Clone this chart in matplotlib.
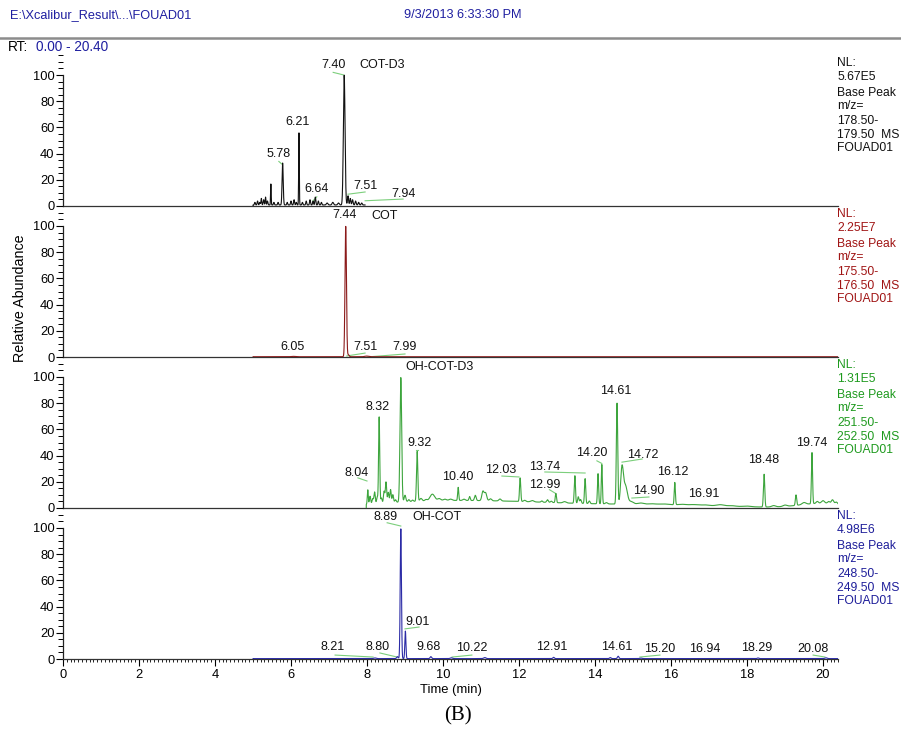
import numpy as np
import matplotlib
matplotlib.use("Agg")
import matplotlib.pyplot as plt
from matplotlib.ticker import MultipleLocator

plt.rcParams["font.family"] = ["Liberation Sans", "DejaVu Sans"]

# ---- peak tables: retention time (min), relative height (%), width (min)
cotd3_rt = [5.05, 5.12, 5.18, 5.22, 5.28, 5.33, 5.38, 5.47, 5.55, 5.66, 5.78, 5.90, 6.00, 6.08,
            6.14, 6.21, 6.30, 6.40, 6.50, 6.58, 6.64, 6.72, 6.80, 6.95, 7.10, 7.25, 7.40, 7.50,
            7.56, 7.62, 7.70, 7.78, 7.86]
cotd3_h = [2, 3, 2, 5, 4, 6, 3, 16, 2, 2, 32, 2, 3, 4,
           2, 55, 2, 3, 4, 3, 6, 3, 2, 1.5, 2, 1.5, 99, 7,
           5, 4, 3, 2, 1.5]
cotd3_w = [.012, .012, .012, .01, .012, .01, .012, .008, .012, .012, .015, .012, .012, .012,
           .012, .008, .012, .012, .012, .012, .012, .012, .012, .02, .02, .02, .022, .014,
           .014, .014, .014, .014, .014]

cot_rt = [6.05, 7.44, 7.51, 7.99]
cot_h = [0.3, 99.5, 1.5, 0.5]
cot_w = [.05, .019, .02, .05]

ohcotd3_rt = [8.02, 8.08, 8.15, 8.20, 8.27, 8.32, 8.38, 8.45, 8.50, 8.56, 8.62, 8.68, 8.75,
              8.89, 9.00, 9.10, 9.20, 9.32, 9.42, 9.55, 9.72, 9.90, 10.05, 10.20, 10.40,
              10.55, 10.70, 10.85, 11.05, 11.12, 11.25, 11.50, 12.03, 12.15, 12.35, 12.60,
              12.75, 12.85, 12.97, 13.20, 13.47, 13.56, 13.62, 13.74, 13.85, 14.08, 14.18,
              14.30, 14.58, 14.71, 14.80, 14.95, 15.20, 15.50, 15.80, 16.10, 16.30, 16.60,
              16.90, 17.30, 17.60, 18.00, 18.45, 18.70, 19.00, 19.29, 19.50, 19.71, 19.85,
              20.00, 20.15, 20.25, 20.35,
              9.5, 12.0, 15.5, 20.0]
ohcotd3_h = [11, 6, 4, 9, 5, 66, 4, 9, 16, 8, 10, 6, 2,
             95, 5, 1.5, 1, 38, 2, 1, 5, 1.5, 1, 1, 10,
             1, 3, 4, 7, 6, 1.5, 1.5, 18, 1, 1, 1,
             2, 1, 7, 1, 21, 5, 3, 19, 2, 23, 30,
             1, 77, 27, 14, 2, 1, 0.5, 0.5, 17, 0.5, 0.5,
             0.5, 1, 0.5, 0.5, 25, 1, 1, 8, 1.5, 39, 1.5,
             2, 1.5, 3, 1.5,
             4.5, 3.5, 2.5, 3.5]
ohcotd3_w = [.012, .017, .017, .017, .017, .015, .017, .017, .017, .017, .017, .017, .02,
             .022, .022, .02, .02, .017, .03, .03, .06, .04, .04, .04, .014,
             .03, .017, .022, .028, .03, .03, .03, .016, .03, .04, .02,
             .022, .022, .016, .04, .016, .017, .02, .016, .02, .015, .014,
             .03, .018, .035, .05, .06, .08, .1, .1, .015, .1, .1,
             .1, .1, .1, .1, .017, .05, .05, .017, .05, .015, .03,
             .04, .03, .03, .03,
             1.5, 1.5, 1.8, 0.6]

ohcot_rt = [8.21, 8.80, 8.89, 9.01, 9.68, 10.22, 11.10, 12.91, 14.40, 14.61, 15.20, 18.29, 20.08]
ohcot_h = [0.5, 1.5, 99, 21, 1.5, 0.6, 0.8, 1.0, 0.8, 1.8, 0.4, 0.5, 0.6]
ohcot_w = [.03, .02, .016, .014, .02, .03, .03, .02, .02, .02, .03, .02, .03]

# trace windows (acquisition start / end, min) and baseline offsets
trace_start = [5.0, 5.0, 7.98, 5.0]
trace_end = [7.95, 20.4, 20.4, 20.4]
trace_base = [0.8, 0.2, 0.0, 0.3]

peak_tables = [(cotd3_rt, cotd3_h, cotd3_w), (cot_rt, cot_h, cot_w),
               (ohcotd3_rt, ohcotd3_h, ohcotd3_w), (ohcot_rt, ohcot_h, ohcot_w)]

trace_colors = ["#111111", "#8B1A1A", "#3DA53D", "#2B2BA6"]
info_colors = ["#111111", "#A01414", "#1E9A1E", "#1E1E9A"]
info_text = [
    ["NL:", "5.67E5", "Base Peak", "m/z=", "178.50-", "179.50  MS", "FOUAD01"],
    ["NL:", "2.25E7", "Base Peak", "m/z=", "175.50-", "176.50  MS", "FOUAD01"],
    ["NL:", "1.31E5", "Base Peak", "m/z=", "251.50-", "252.50  MS", "FOUAD01"],
    ["NL:", "4.98E6", "Base Peak", "m/z=", "248.50-", "249.50  MS", "FOUAD01"],
]

# peak labels: (text, x, y) in data units of each panel
labels = [
    [("5.78", 5.66, 40), ("6.21", 6.18, 64), ("6.64", 6.68, 13), ("7.40", 7.11, 107.5),
     ("COT-D3", 8.39, 107.5), ("7.51", 7.95, 15), ("7.94", 8.95, 9)],
    [("7.44", 7.42, 108.4), ("COT", 8.47, 107.5), ("6.05", 6.03, 7.6), ("7.51", 7.95, 7.6),
     ("7.99", 9.0, 7.6)],
    [("OH-COT-D3", 9.92, 107.5), ("8.32", 8.29, 77), ("9.32", 9.39, 49.6), ("8.04", 7.74, 26.7),
     ("10.40", 10.39, 23.7), ("12.03", 11.53, 29), ("13.74", 12.68, 31.3), ("12.99", 12.68, 17.6),
     ("14.20", 13.92, 42), ("14.61", 14.55, 89), ("14.72", 15.26, 40.5), ("16.12", 16.05, 27.5),
     ("14.90", 15.42, 13), ("16.91", 16.87, 10.7), ("18.48", 18.45, 36.6), ("19.74", 19.71, 49.6)],
    [("8.89", 8.5, 108.4), ("OH-COT", 9.84, 108.4), ("9.01", 9.34, 28), ("8.21", 7.1, 9),
     ("8.80", 8.29, 9), ("9.68", 9.63, 9), ("10.22", 10.76, 8.4), ("12.91", 12.87, 9),
     ("14.61", 14.58, 9), ("15.20", 15.71, 7.6), ("16.94", 16.89, 7.6), ("18.29", 18.26, 8.4),
     ("20.08", 19.74, 7.6)],
]
# green connector lines from label to peak
connectors = [
    [((7.11, 7.39), (102, 100)), ((7.5, 7.95), (9, 10.7)), ((7.95, 8.95), (4, 5.3)),
     ((5.68, 5.76), (34, 32)), ((6.58, 6.68), (4, 7))],
    [((7.47, 7.95), (0.8, 3)), ((8.0, 9.0), (0, 2.3))],
    [((7.76, 8.0), (23, 20.6)), ((11.55, 12.0), (24.4, 23.7)), ((12.68, 13.74), (27.5, 26.7)),
     ((12.8, 12.97), (14, 11)), ((14.05, 14.18), (36, 34)), ((14.71, 15.24), (35, 37.4)),
     ((14.97, 15.42), (7.6, 8.4)), ((9.3, 9.35), (44, 44))],
    [((8.53, 8.89), (104, 101.5)), ((9.0, 9.37), (23, 24.4)), ((7.16, 8.16), (3, 1.5)),
     ((8.34, 8.79), (4.6, 1.5)), ((10.24, 10.76), (1.5, 3)), ((15.18, 15.71), (1.5, 3)),
     ((19.74, 20.05), (3, 1.5))],
]

W, H = 901, 730
X0, PXMIN = 63, 38.0
YMAX = 151 / 1.31
fig = plt.figure(figsize=(W / 100, H / 100), dpi=100)

# header
fig.text(10 / W, 1 - 15 / H, "E:\\Xcalibur_Result\\...\\FOUAD01", color="#1E1EA0", fontsize=9.2, va="center")
fig.text(463 / W, 1 - 15 / H, "9/3/2013 6:33:30 PM", color="#1E1EA0", fontsize=9.2, va="center", ha="center")
fig.add_artist(plt.Line2D([0, 1], [1 - 38 / H, 1 - 38 / H], color="#8C8C8C", lw=1.8))
fig.text(8 / W, 1 - 47 / H, "RT:", color="black", fontsize=9.8, va="center")
fig.text(36 / W, 1 - 47 / H, "0.00 - 20.40", color="#1E1EA0", fontsize=9.8, va="center")

info_dy = [0, 14, 30, 43, 58, 72, 85]

axes = []
for k in range(4):
    y0 = 206 + 151 * k
    ax = fig.add_axes([X0 / W, (H - y0) / H, 20.4 * PXMIN / W, 151 / H])
    axes.append(ax)
    rts, hs, ws = peak_tables[k]
    t = np.arange(trace_start[k], trace_end[k], 0.002)
    y = np.full_like(t, trace_base[k])
    for rt, h, w in zip(rts, hs, ws):
        y += h * np.exp(-0.5 * ((t - rt) / w) ** 2)
    t = np.concatenate([[trace_start[k]], t])
    y = np.concatenate([[0], y])
    ax.plot(t, y, color=trace_colors[k], lw=0.8, zorder=3)

    for (xs, ys) in connectors[k]:
        ax.plot(xs, ys, color="#7CCF7C", lw=0.8, zorder=2)
    for txt, lx, ly in labels[k]:
        ax.text(lx, ly, txt, ha="center", va="center", fontsize=9.0, color="#111111", zorder=4)

    ax.set_xlim(0, 20.4)
    ax.set_ylim(0, YMAX)
    for s in ("top", "right"):
        ax.spines[s].set_visible(False)
    ax.spines["left"].set_bounds(0, 100)
    ax.spines["left"].set_color("#222222")
    ax.spines["bottom"].set_color("#333333")
    ax.spines["left"].set_linewidth(0.9)
    ax.spines["bottom"].set_linewidth(0.9)
    ax.set_yticks([0, 20, 40, 60, 80, 100])
    ax.yaxis.set_minor_locator(MultipleLocator(5))
    ax.tick_params(axis="y", which="major", length=5, width=0.8, labelsize=9.3, pad=1)
    ax.tick_params(axis="y", which="minor", length=3.5, width=0.7)
    ax.patch.set_alpha(0)

    for i, line in enumerate(info_text[k]):
        yy = 63 + 151 * k + info_dy[i]
        fig.text(837 / W, 1 - yy / H, line, color=info_colors[k], fontsize=8.7, va="center")

    if k < 3:
        ax.set_xticks([])
    else:
        ax.set_xticks(np.arange(0, 21, 2))
        ax.xaxis.set_minor_locator(MultipleLocator(0.1))
        ax.tick_params(axis="x", which="major", length=5, width=0.8, labelsize=9.3, pad=2)
        ax.tick_params(axis="x", which="minor", length=2.5, width=0.6)
        ax.set_xlabel("Time (min)", fontsize=9.4, labelpad=2)

fig.text(20 / W, 1 - 298 / H, "Relative Abundance", rotation=90, fontsize=10.3, va="center", ha="center")
fig.text(458 / W, 1 - 716 / H, "(B)", fontsize=15, va="center", ha="center",
         family=["Liberation Serif", "DejaVu Serif"])

fig.savefig("out.png", dpi=100)
